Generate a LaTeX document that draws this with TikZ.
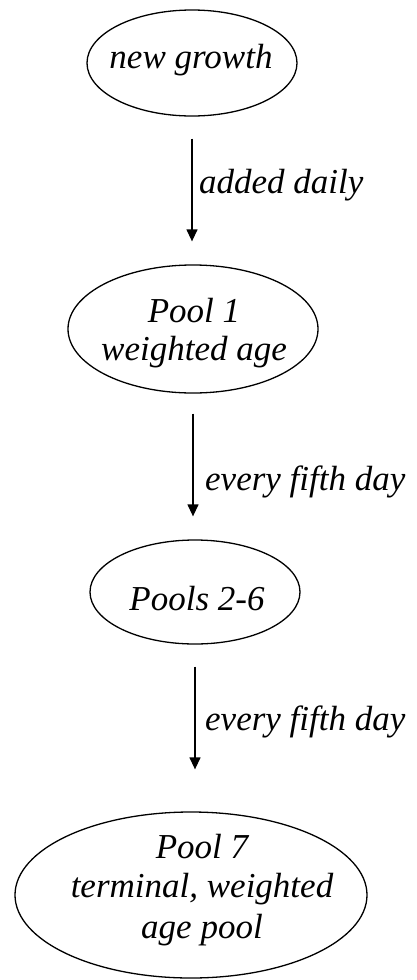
\documentclass[tikz,border=0pt]{standalone}
\usepackage{fontspec}
\setmainfont{Liberation Serif}
\usetikzlibrary{shapes.geometric,arrows.meta}
\begin{document}
\begin{tikzpicture}[x=1pt,y=-1pt,
  pool/.style={draw,ellipse,line width=1.3pt,inner sep=0pt},
  txt/.style={font=\fontsize{35}{40}\selectfont\itshape,anchor=base,inner sep=0pt},
  lbl/.style={font=\fontsize{35}{40}\selectfont\itshape,anchor=base west,inner sep=0pt},
  arr/.style={line width=1.3pt,-{Triangle[width=11pt,length=12pt]}}]
\useasboundingbox (0,0) rectangle (417,980);
\node[pool,minimum width=210pt,minimum height=106pt] (e1) at (192,63) {};
\node[pool,minimum width=250pt,minimum height=128pt] (e2) at (193,329) {};
\node[pool,minimum width=210pt,minimum height=104pt] (e3) at (195,592) {};
\node[pool,minimum width=352pt,minimum height=166pt] (e4) at (191,895) {};
\node[txt] (t1) at (191,68) {new growth};
\node[txt] (t2a) at (194,322) {Pool 1};
\node[txt] (t2b) at (194,360) {weighted age};
\node[txt] (t3) at (197,610) {Pools 2-6};
\node[txt] (t4a) at (202,858) {Pool 7};
\node[txt] (t4b) at (202,897) {terminal, weighted};
\node[txt] (t4c) at (202,938) {age pool};
\draw[arr] ([yshift=-22pt]e1.south) -- ([yshift=23pt]e1.south |- e2.north);
\draw[arr] ([yshift=-20pt]e2.south) -- ([yshift=23pt]e2.south |- e3.north);
\draw[arr] ([yshift=-22pt]e3.south) -- ([yshift=42pt]e3.south |- e4.north);
\node[lbl] (l1) at (199,193) {added daily};
\node[lbl] (l2) at (205,490) {every fifth day};
\node[lbl] (l3) at (205,730) {every fifth day};
\end{tikzpicture}
\end{document}
